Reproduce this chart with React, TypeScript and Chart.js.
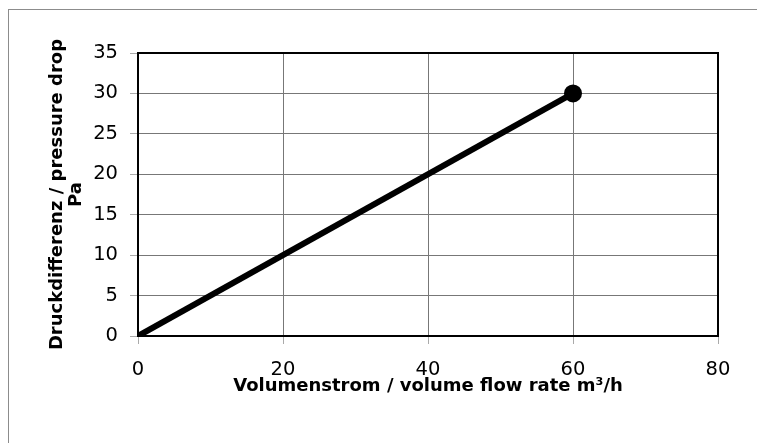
import React, { useEffect, useRef } from "react";
import { Chart, registerables } from "chart.js";

Chart.register(...registerables);

const flowRates = [0, 60];
const pressureDrops = [0, 30];
const xTicks = [0, 20, 40, 60, 80];
const yTicks = [0, 5, 10, 15, 20, 25, 30, 35];
const pointRadii = [0, 9];
const xTitle = "Volumenstrom / volume flow rate m³/h";
const yTitle = ["Druckdifferenz / pressure drop", "Pa"];

const framePlugin = {
  id: "frame",
  beforeDraw(chart: any) {
    const ctx = chart.ctx;
    ctx.save();
    ctx.fillStyle = "#fff";
    ctx.fillRect(0, 0, chart.width, chart.height);
    ctx.strokeStyle = "#8c8c8c";
    ctx.lineWidth = 1;
    ctx.strokeRect(8.5, 9.5, 900, 600);
    ctx.restore();
  },
  beforeDatasetsDraw(chart: any) {
    const { left, right, top, bottom } = chart.chartArea;
    const ctx = chart.ctx;
    ctx.save();
    ctx.strokeStyle = "#000";
    ctx.lineWidth = 2;
    ctx.strokeRect(left, top, right - left, bottom - top);
    ctx.restore();
  },
};

export default function App() {
  const ref = useRef<HTMLCanvasElement | null>(null);
  useEffect(() => {
    if (!ref.current) return;
    const chart = new Chart(ref.current, {
      type: "scatter",
      data: {
        datasets: [
          {
            data: flowRates.map((x, i) => ({ x, y: pressureDrops[i] })),
            showLine: true,
            borderColor: "#000",
            backgroundColor: "#000",
            borderWidth: 6,
            pointRadius: pointRadii,
            pointHoverRadius: pointRadii,
            pointBackgroundColor: "#000",
            pointBorderWidth: 0,
          } as any,
        ],
      },
      options: {
        animation: false,
        responsive: false,
        devicePixelRatio: 1,
        layout: { padding: { top: 53, right: 39, bottom: 0, left: 0 } },
        plugins: { legend: { display: false }, tooltip: { enabled: false } },
        scales: {
          x: {
            type: "linear",
            min: 0,
            max: 80,
            afterFit: (s: any) => {
              s.height = 107;
            },
            afterBuildTicks: (s: any) => {
              s.ticks = xTicks.map((v) => ({ value: v }));
            },
            grid: { color: "#777", tickColor: "#aaa", tickLength: 8, lineWidth: 1 },
            border: { display: false },
            ticks: {
              color: "#000",
              padding: 14,
              font: { family: "DejaVu Sans", size: 19.5 },
            },
            title: {
              display: true,
              text: xTitle,
              color: "#000",
              font: { family: "DejaVu Sans", size: 18, weight: "bold", lineHeight: 1.2 },
              padding: { top: 0, bottom: 46 },
            },
          },
          y: {
            type: "linear",
            min: 0,
            max: 35,
            afterFit: (s: any) => {
              s.width = 138;
            },
            afterBuildTicks: (s: any) => {
              s.ticks = yTicks.map((v) => ({ value: v }));
            },
            grid: { color: "#777", tickColor: "#aaa", tickLength: 8, lineWidth: 1 },
            border: { display: false },
            ticks: {
              color: "#000",
              padding: 12,
              font: { family: "DejaVu Sans", size: 19.5 },
            },
            title: {
              display: true,
              text: yTitle,
              color: "#000",
              font: { family: "DejaVu Sans", size: 18, weight: "bold", lineHeight: 1.1 },
              padding: { top: 47, bottom: 0 },
            },
          },
        },
      },
      plugins: [framePlugin],
    });
    return () => chart.destroy();
  }, []);
  return (
    <div style={{ position: "fixed", left: 0, top: 0, width: 757, height: 443, background: "#fff" }}>
      <canvas ref={ref} width={757} height={443} style={{ width: 757, height: 443, display: "block" }} />
    </div>
  );
}
